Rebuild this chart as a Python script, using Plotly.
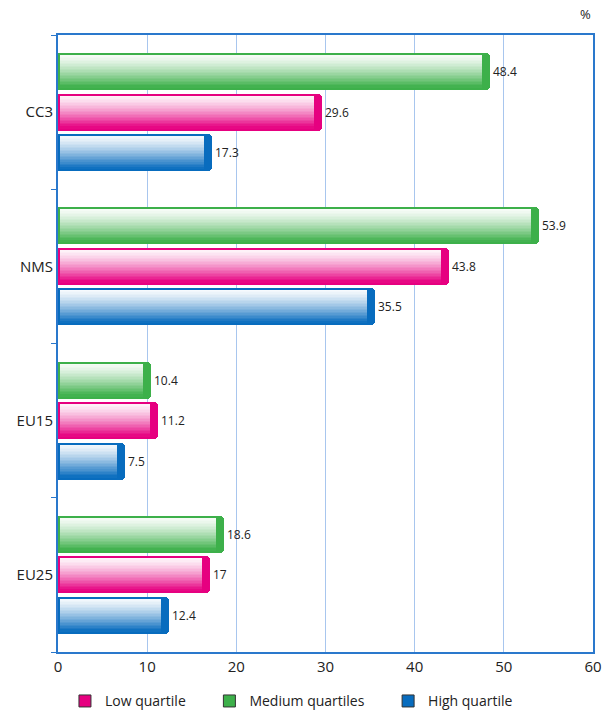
import plotly.graph_objects as go

regions = ["EU25", "EU15", "NMS", "CC3"]
medium_q = [18.6, 10.4, 53.9, 48.4]
low_q = [17, 11.2, 43.8, 29.6]
high_q = [12.4, 7.5, 35.5, 17.3]
x_ticks = [0, 10, 20, 30, 40, 50, 60]

FONT = "Open Sans"

GREEN = (61, 176, 74)
PINK = (230, 0, 128)
BLUE = (8, 108, 190)

# (name, values, colour, vertical offset of bar centre inside its category)
series = [
    ("Medium quartiles", medium_q, GREEN, 0.263),
    ("Low quartile", low_q, PINK, 0.0),
    ("High quartile", high_q, BLUE, -0.263),
]

BAR_H = 0.24
SLICES = 22
CAP = 0.9
START = 0.22
INSET = 0.013


def rgb(c):
    return f"rgb({c[0]},{c[1]},{c[2]})"


def mix(c, t):
    return tuple(int(round(255 * (1 - t) + v * t)) for v in c)


fig = go.Figure()

for name, vals, col, off in series:
    # solid bar: gives the outline and the dark end cap
    fig.add_trace(go.Bar(
        y=regions, x=vals, orientation="h", width=BAR_H, offset=off - BAR_H / 2,
        marker=dict(color=rgb(col), line=dict(width=0), cornerradius=4),
        text=[f"{v:g}" for v in vals], textposition="outside",
        textfont=dict(family=FONT, size=12, color="#222222"),
        cliponaxis=False, showlegend=False, hoverinfo="skip",
    ))
    # gradient body as thin slices, pale on top; each overlaps the one above
    inner = BAR_H - 2 * INSET
    sh = inner / SLICES
    top = off + BAR_H / 2 - INSET
    for k in range(SLICES):
        t = (k + 0.5) / SLICES
        c = mix(col, 0.03 + 0.97 * t ** 1.4)
        extra = 0 if k == 0 else sh * 0.8
        fig.add_trace(go.Bar(
            y=regions, x=[v - START - CAP for v in vals], base=START,
            orientation="h", width=sh + extra, offset=top - (k + 1) * sh,
            marker=dict(color=rgb(c), line=dict(width=0)),
            showlegend=False, hoverinfo="skip",
        ))

# legend entries, one small legend each so they sit where the original has them
legend_items = [("Low quartile", PINK, "legend", 0.013),
                ("Medium quartiles", GREEN, "legend2", 0.283),
                ("High quartile", BLUE, "legend3", 0.617)]
for name, col, lg, _ in legend_items:
    fig.add_trace(go.Bar(
        y=[None], x=[None], orientation="h", name=name, legend=lg,
        marker=dict(color=rgb(col), line=dict(color="#333333", width=1)),
    ))

fig.add_annotation(text="%", xref="paper", yref="paper", x=1.0, y=1.0, yshift=10,
                   xanchor="right", yanchor="bottom", showarrow=False,
                   font=dict(family=FONT, size=13, color="#222222"))

legend_style = dict(orientation="h", y=-0.08, yanchor="middle", xanchor="left",
                    itemwidth=30, font=dict(family=FONT, size=14, color="#222222"),
                    bgcolor="rgba(0,0,0,0)")
legends = {lg: dict(legend_style, x=x) for _, _, lg, x in legend_items}

fig.update_layout(
    width=605, height=715,
    margin=dict(l=58, r=12, t=35, b=63, autoexpand=False),
    paper_bgcolor="white", plot_bgcolor="white",
    barmode="overlay", bargap=0,
    font=dict(family=FONT, size=13, color="#222222"),
    xaxis=dict(range=[0, 60], tickvals=x_ticks, showgrid=True, gridcolor="#a8c6ee",
               gridwidth=1, zeroline=False, showline=True, linecolor="#2a78cc",
               linewidth=2, mirror=True, ticks="", tickfont=dict(size=15),
               automargin=False, fixedrange=True),
    yaxis=dict(categoryorder="array", categoryarray=regions, showgrid=False,
               showline=True, linecolor="#2a78cc", linewidth=2, mirror=True,
               ticks="outside", tickson="boundaries", ticklen=5, tickcolor="#2a78cc",
               tickfont=dict(size=15), range=[-0.5, 3.5], automargin=False),
    showlegend=True,
    **legends,
)

# drop the default page margin so the figure sits at the window's corner
fig.write_html("out.html", config={"displayModeBar": False},
               post_script="document.body.style.margin='0';")
